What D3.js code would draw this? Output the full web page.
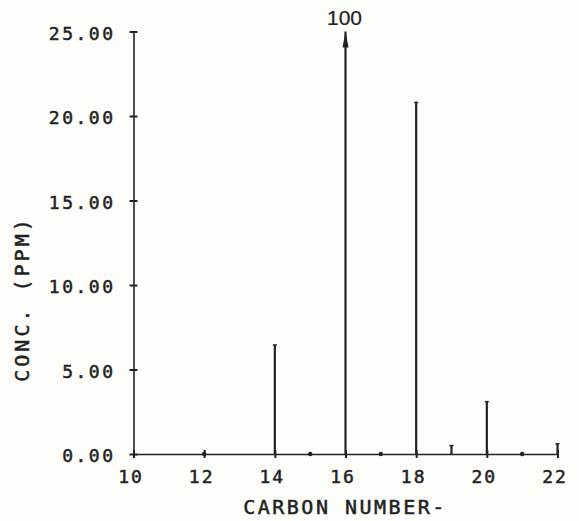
<!DOCTYPE html>
<html><head><meta charset="utf-8">
<script src="https://cdn.jsdelivr.net/npm/d3@7"></script>
<style>
body{margin:0;background:#fdfdf9;}
text{font-family:"DejaVu Sans Mono",monospace;fill:#222;stroke:#222;stroke-width:0.5px;}
</style></head>
<body><svg id="c" width="579" height="521"></svg>
<script>
const carbonNumbers = [12, 14, 15, 16, 17, 18, 19, 20, 21, 22];
const concentrations = [0, 6.45, 0.05, 100, 0.05, 20.8, 0.5, 3.1, 0.05, 0.6];
const xTicks = [10, 12, 14, 16, 18, 20, 22];
const yTicks = [0, 5, 10, 15, 20, 25];
const offScaleLabel = "100";

const svg = d3.select("#c");
const ink = "#222";
const x = d3.scaleLinear().domain([10, 22]).range([133.5, 557.5]);
const y = d3.scaleLinear().domain([0, 25]).range([454, 31.5]);

// axes
const xAxis = d3.axisBottom(x).tickValues(xTicks).tickSize(0).tickFormat(d => d);
const gx = svg.append("g").attr("transform", `translate(0,${y(0)})`).call(xAxis);
gx.select(".domain").attr("stroke", ink).attr("stroke-width", 1.6);
gx.selectAll(".tick text").attr("font-size", 18).attr("letter-spacing", "2px").attr("dy", "1.45em").attr("dx", -3);
gx.selectAll(".tick").append("line").attr("y1", -4).attr("y2", 4).attr("stroke", ink).attr("stroke-width", 2);

const yAxis = d3.axisLeft(y).tickValues(yTicks).tickSize(0).tickFormat(d3.format(".2f"));
const gy = svg.append("g").attr("transform", `translate(${x(10)},0)`).call(yAxis);
gy.select(".domain").attr("stroke", ink).attr("stroke-width", 1.6);
gy.selectAll(".tick text").attr("font-size", 18).attr("letter-spacing", "2.5px").attr("x", -18).attr("dy", "0.42em");
gy.selectAll(".tick").append("line").attr("x1", -4).attr("x2", 4).attr("stroke", ink).attr("stroke-width", 2);

// stems
const data = carbonNumbers.map((c, i) => ({c, v: concentrations[i]}));
const ymax = y.domain()[1];
svg.append("g").selectAll("line").data(data.filter(d => d.v > 0.2)).join("line")
  .attr("x1", d => x(d.c)).attr("x2", d => x(d.c))
  .attr("y1", y(0)).attr("y2", d => y(Math.min(d.v, ymax)))
  .attr("stroke", ink).attr("stroke-width", 2.2);
svg.append("g").selectAll("line").data(data.filter(d => d.v > 0.2 && d.v <= ymax)).join("line")
  .attr("x1", d => x(d.c) - 2).attr("x2", d => x(d.c) + 2)
  .attr("y1", d => y(d.v)).attr("y2", d => y(d.v))
  .attr("stroke", ink).attr("stroke-width", 1.5);
svg.append("g").selectAll("circle").data(data.filter(d => d.v <= 0.2)).join("circle")
  .attr("cx", d => x(d.c)).attr("cy", y(0)).attr("r", 2.2).attr("fill", ink);

// off-scale arrow and label
const off = data.filter(d => d.v > ymax);
svg.append("g").selectAll("path").data(off).join("path")
  .attr("d", d => { const cx = x(d.c), ty = y(ymax); return `M${cx},${ty} L${cx-3},${ty+16} L${cx+3},${ty+16} Z`; })
  .attr("fill", ink);
svg.append("g").selectAll("text").data(off).join("text")
  .attr("x", d => x(d.c) - 1).attr("y", 25).attr("text-anchor", "middle")
  .attr("font-size", 21).style("font-family", "'Liberation Sans',Arial,sans-serif").style("stroke-width", "0.2px").text(offScaleLabel);

// axis titles
svg.append("text").attr("x", 345).attr("y", 514).attr("text-anchor", "middle")
  .attr("font-size", 20).attr("letter-spacing", "2.5px").text("CARBON NUMBER-");
svg.append("text").attr("transform", "translate(29,299) rotate(-90)").attr("text-anchor", "middle")
  .attr("font-size", 20).attr("letter-spacing", "3px").text("CONC. (PPM)");
</script></body></html>
